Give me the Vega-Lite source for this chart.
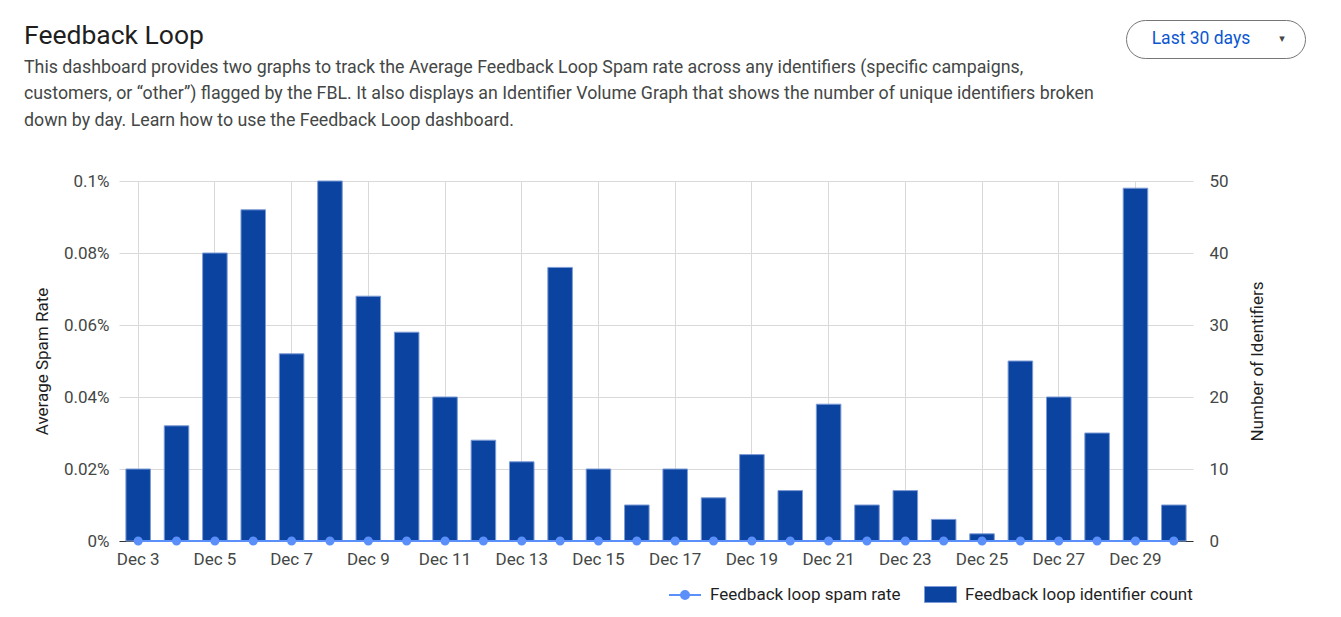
{
  "$schema": "https://vega.github.io/schema/vega-lite/v6.json",
  "background": "white",
  "padding": {"left": 24, "top": 19, "right": 0, "bottom": 0},
  "config": {
    "font": "Roboto",
    "view": {"stroke": null},
    "axis": {"labelFont": "Roboto", "titleFont": "Roboto", "labelColor": "#444746", "titleColor": "#1f1f1f", "labelFontSize": 17, "titleFontSize": 17, "titleFontWeight": "normal", "gridColor": "#d9d9d9", "domain": false, "ticks": false},
    "legend": {"labelFont": "Roboto"},
    "title": {"font": "Roboto", "subtitleFont": "Roboto"}
  },
  "spacing": 42,
  "vconcat": [
    {
      "spacing": 10,
      "hconcat": [
        {
          "width": 996,
          "height": 1,
          "data": {"values": []},
          "mark": "text",
          "title": {
            "text": "Feedback Loop",
            "subtitle": [
              "This dashboard provides two graphs to track the Average Feedback Loop Spam rate across any identifiers (specific campaigns,",
              "customers, or “other”) flagged by the FBL. It also displays an Identifier Volume Graph that shows the number of unique identifiers broken",
              "down by day. Learn how to use the Feedback Loop dashboard."
            ],
            "orient": "bottom",
            "anchor": "start",
            "frame": "group",
            "dx": -95,
            "offset": 2,
            "fontSize": 26.5,
            "fontWeight": "normal",
            "color": "#1f1f1f",
            "subtitleFontSize": 17.8,
            "subtitleColor": "#444746",
            "subtitleLineHeight": 26.5,
            "subtitlePadding": 9
          }
        },
        {
          "width": 179,
          "height": 38,
          "view": {"stroke": "#747775", "strokeWidth": 1, "cornerRadius": 19, "fill": "white"},
          "data": {"values": [{"label": "Last 30 days", "arrow": "▾"}]},
          "layer": [
            {"mark": {"type": "text", "font": "Roboto", "fontSize": 17.5, "color": "#0b57d0", "dx": -14.5, "baseline": "middle"}, "encoding": {"text": {"field": "label"}}},
            {"mark": {"type": "text", "font": "DejaVu Sans", "fontSize": 11, "color": "#444746", "dx": 66.5, "baseline": "middle"}, "encoding": {"text": {"field": "arrow"}}}
          ]
        }
      ]
    },
    {
      "width": 1074,
      "height": 360,
      "data": {"values": [
        {"date": "Dec 3", "count": 10, "rate": 0},
        {"date": "Dec 4", "count": 16, "rate": 0},
        {"date": "Dec 5", "count": 40, "rate": 0},
        {"date": "Dec 6", "count": 46, "rate": 0},
        {"date": "Dec 7", "count": 26, "rate": 0},
        {"date": "Dec 8", "count": 50, "rate": 0},
        {"date": "Dec 9", "count": 34, "rate": 0},
        {"date": "Dec 10", "count": 29, "rate": 0},
        {"date": "Dec 11", "count": 20, "rate": 0},
        {"date": "Dec 12", "count": 14, "rate": 0},
        {"date": "Dec 13", "count": 11, "rate": 0},
        {"date": "Dec 14", "count": 38, "rate": 0},
        {"date": "Dec 15", "count": 10, "rate": 0},
        {"date": "Dec 16", "count": 5, "rate": 0},
        {"date": "Dec 17", "count": 10, "rate": 0},
        {"date": "Dec 18", "count": 6, "rate": 0},
        {"date": "Dec 19", "count": 12, "rate": 0},
        {"date": "Dec 20", "count": 7, "rate": 0},
        {"date": "Dec 21", "count": 19, "rate": 0},
        {"date": "Dec 22", "count": 5, "rate": 0},
        {"date": "Dec 23", "count": 7, "rate": 0},
        {"date": "Dec 24", "count": 3, "rate": 0},
        {"date": "Dec 25", "count": 1, "rate": 0},
        {"date": "Dec 26", "count": 25, "rate": 0},
        {"date": "Dec 27", "count": 20, "rate": 0},
        {"date": "Dec 28", "count": 15, "rate": 0},
        {"date": "Dec 29", "count": 49, "rate": 0},
        {"date": "Dec 30", "count": 5, "rate": 0}
      ]},
      "encoding": {
        "x": {
          "field": "date", "type": "ordinal", "sort": null,
          "scale": {"paddingInner": 0.36, "paddingOuter": 0.18},
          "axis": {
            "title": null,
            "values": ["Dec 3", "Dec 5", "Dec 7", "Dec 9", "Dec 11", "Dec 13", "Dec 15", "Dec 17", "Dec 19", "Dec 21", "Dec 23", "Dec 25", "Dec 27", "Dec 29"],
            "grid": true, "bandPosition": 0.5, "domain": true, "domainColor": "#333333", "domainWidth": 1,
            "labelAngle": 0, "labelPadding": 10
          }
        }
      },
      "layer": [
        {
          "mark": {"type": "bar", "stroke": "#7d9bd6", "strokeWidth": 1},
          "encoding": {
            "y": {
              "field": "count", "type": "quantitative",
              "scale": {"domain": [0, 50]},
              "axis": {"orient": "right", "title": "Number of Identifiers", "titleAngle": -90, "values": [0, 10, 20, 30, 40, 50], "grid": false, "labelPadding": 16, "titlePadding": 38}
            },
            "fill": {
              "datum": "Feedback loop identifier count", "type": "nominal",
              "scale": {"domain": ["Feedback loop identifier count"], "range": ["#0b43a0"]},
              "legend": {
                "title": null, "orient": "none", "legendX": 805, "legendY": 558, "direction": "horizontal",
                "labelFontSize": 17, "labelColor": "#1f1f1f", "labelOffset": 8, "labelLimit": 400,
                "symbolType": "M-1,-0.5H1V0.5H-1Z", "symbolSize": 1024, "symbolStrokeColor": "#7d9bd6", "symbolStrokeWidth": 1, "symbolOpacity": 1
              }
            }
          }
        },
        {
          "mark": {"type": "line", "strokeWidth": 2, "color": "#5b8ff9", "point": {"filled": true, "size": 50, "color": "#5b8ff9"}},
          "encoding": {
            "y": {
              "field": "rate", "type": "quantitative",
              "scale": {"domain": [0, 0.001]},
              "axis": {"orient": "left", "title": "Average Spam Rate", "format": ".2~%", "values": [0, 0.0002, 0.0004, 0.0006, 0.0008, 0.001], "grid": true, "labelPadding": 10, "titlePadding": 12}
            },
            "stroke": {
              "datum": "Feedback loop spam rate", "type": "nominal",
              "scale": {"domain": ["Feedback loop spam rate"], "range": ["#5b8ff9"]},
              "legend": {
                "title": null, "orient": "none", "legendX": 549, "legendY": 558, "direction": "horizontal",
                "labelFontSize": 17, "labelColor": "#1f1f1f", "labelOffset": 8, "labelLimit": 400,
                "symbolType": "M-1,0H1M0.25,0A0.25,0.25,0,1,1,-0.25,0A0.25,0.25,0,1,1,0.25,0Z", "symbolSize": 1024, "symbolFillColor": "#5b8ff9", "symbolStrokeWidth": 2, "symbolOpacity": 1
              }
            }
          }
        }
      ],
      "resolve": {"scale": {"y": "independent"}}
    }
  ]
}
